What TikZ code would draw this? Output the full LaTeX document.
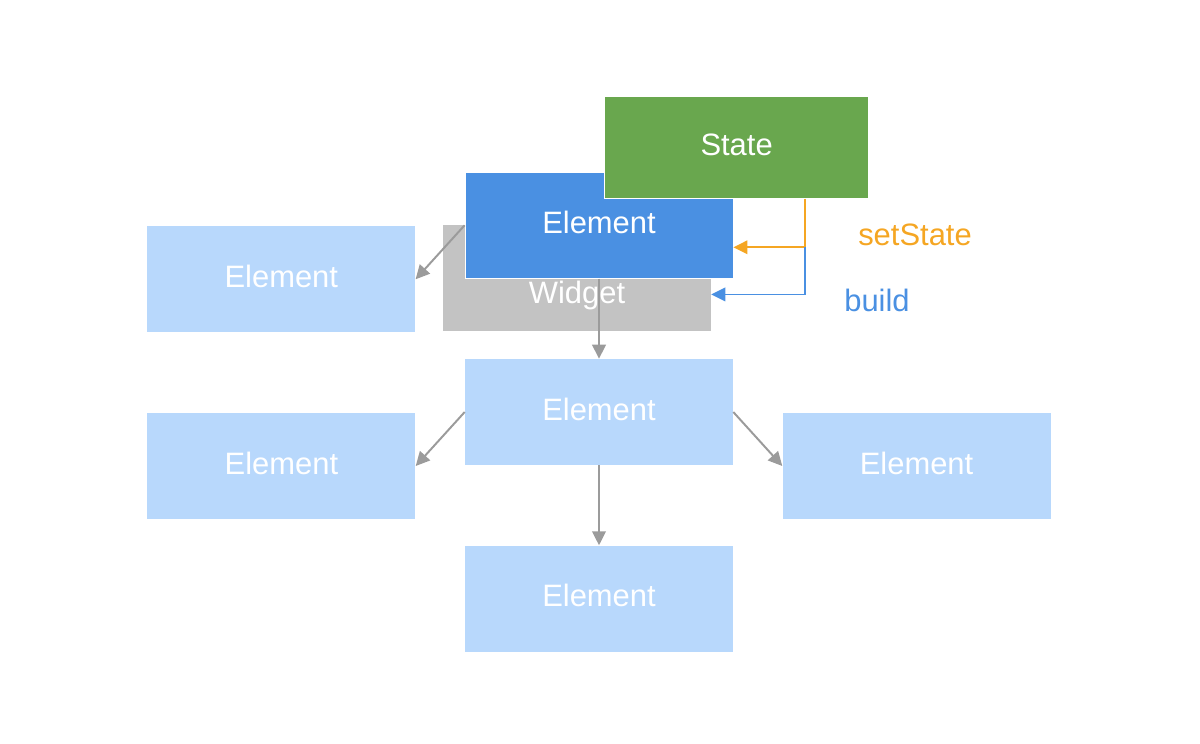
\documentclass[tikz,border=0pt]{standalone}
\usepackage{fontspec}
\setmainfont{Liberation Sans}
\usetikzlibrary{positioning,arrows.meta}
\definecolor{elemblue}{HTML}{B8D8FC}
\definecolor{activeblue}{HTML}{4A90E2}
\definecolor{stategreen}{HTML}{69A74E}
\definecolor{widgetgray}{HTML}{C3C3C3}
\definecolor{arrowgray}{HTML}{9B9B9B}
\definecolor{setorange}{HTML}{F5A623}
\begin{document}
\begin{tikzpicture}

  % Definitions
  \tikzstyle{Element} = [rectangle, minimum width=6.7cm, minimum height=2.65cm, inner sep=0pt, text=white, fill=elemblue, text height=0.55cm, text depth=0.15cm, font=\fontsize{22}{26}\selectfont]
  \tikzstyle{Active} = [Element, fill=activeblue, draw=white, line width=0.6pt]
  \tikzstyle{Widget} = [Element, fill=widgetgray, text height=1.4cm]
  \tikzstyle{State} = [Element, fill=stategreen, draw=white, line width=0.6pt, minimum width=6.6cm, minimum height=2.55cm]
  \tikzstyle{arrow} = [arrowgray, line width=1.4pt, -{Triangle[length=0.35cm, width=0.34cm]}]
  \tikzstyle{setarrow} = [arrow, setorange, line width=1.2pt]
  \tikzstyle{buildarrow} = [arrow, activeblue, line width=1.2pt]
  \tikzstyle{Call} = [inner sep=0pt, font=\fontsize{22}{26}\selectfont]

  \useasboundingbox (0,0) rectangle (30,-18.6);

  \node (Emid) [Element] at (14.975,-10.3) {Element};
  \node (LM) [Element, left=1.225cm of Emid, yshift=-1.35cm] {Element};
  \node (RM) [Element, right=1.225cm of Emid, yshift=-1.35cm] {Element};
  \node (Eb) [Element, below=2cm of Emid] {Element};

  \node (W) [Widget, above=0.675cm of Emid, xshift=-0.55cm] {Widget};
  \node (E0) [Active, above=2cm of Emid] {Element};
  \node (LT) [Element, left=1.225cm of E0, yshift=-1.35cm] {Element};
  \node (St) [State] at ([xshift=3.44cm, yshift=1.95cm]E0.center) {State};

  \coordinate (tap) at ([xshift=1.71cm]St.south);
  \coordinate (setin) at ([yshift=-0.55cm]E0.east);
  \coordinate (buildin) at ([yshift=-0.4cm]W.east);
  \coordinate (fork) at (tap |- setin);

  \draw [arrow] (E0.west) -- (LT.east);
  \draw [arrow] (E0.south) -- (Emid.north);
  \draw [arrow] (Emid.west) -- (LM.east);
  \draw [arrow] (Emid.east) -- (RM.west);
  \draw [arrow] (Emid.south) -- (Eb.north);

  \draw [setarrow] (tap) |- (setin);
  \draw [buildarrow] (fork) |- (buildin);

  \node (setlbl) [Call, text=setorange] at ([xshift=2.75cm, yshift=0.3cm]fork) {setState};
  \node (buildlbl) [Call, text=activeblue] at ([xshift=1.8cm, yshift=-0.15cm]fork |- buildin) {build};

\end{tikzpicture}
\end{document}
